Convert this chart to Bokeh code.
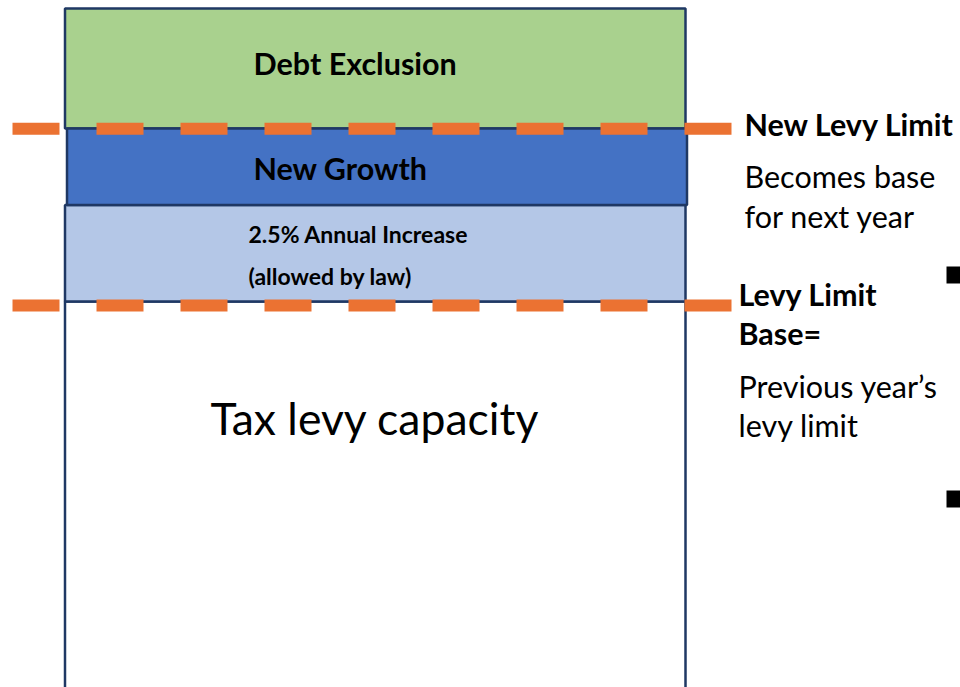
from bokeh.plotting import figure
from bokeh.models import Range1d
from bokeh.core.properties import value
from bokeh.embed import file_html
from bokeh.resources import INLINE

# ---- data (levels in levy units, measured upward from the page bottom) ----
segment_names = ["Tax levy capacity", "2.5% Annual Increase", "New Growth", "Debt Exclusion"]
segment_bottoms = [-20, 386, 482.5, 559]
segment_tops = [386, 482.5, 559, 679]
segment_colors = ["#FFFFFF", "#B4C7E7", "#4472C4", "#A9D18E"]

limit_names = ["New Levy Limit", "Levy Limit Base="]
limit_levels = [558.7, 382]

inside_labels = ["Debt Exclusion", "New Growth", "2.5% Annual Increase", "(allowed by law)", "Tax levy capacity"]
right_labels_bold = ["New Levy Limit", "Levy Limit", "Base="]
right_labels_plain = ["Becomes base", "for next year", "Previous year\u2019s", "levy limit"]

# ---- layout / styling ----
W, H = 960, 687
FONT = value("Lato")
NAVY = "#1F3864"
ORANGE = "#EB7232"

p = figure(width=W, height=H, output_backend="svg", toolbar_location=None,
           x_range=Range1d(0, W), y_range=Range1d(0, H),
           x_axis_location=None, y_axis_location=None, min_border=0)
p.grid.visible = False
p.outline_line_color = None
p.background_fill_color = "white"
p.border_fill_color = "white"

# stacked boxes (capacity, increase, debt exclusion, then new growth slightly offset on top)
box_left, box_right = 64.5, 685
for i in [0, 1, 3]:
    p.quad(left=[box_left], right=[box_right], bottom=[segment_bottoms[i]], top=[segment_tops[i]],
           fill_color=segment_colors[i], line_color=NAVY, line_width=2.5)
p.quad(left=[box_left + 2], right=[box_right + 1.5], bottom=[segment_bottoms[2]], top=[segment_tops[2]],
       fill_color=segment_colors[2], line_color=NAVY, line_width=2.5)

# dashed limit lines
p.segment(x0=[12] * len(limit_levels), x1=[731] * len(limit_levels),
          y0=limit_levels, y1=limit_levels, line_color=ORANGE, line_width=12,
          line_dash="47 37", line_cap="butt")

def sy(screen_y, size):
    # baseline position (screen px from top) -> data y, compensating renderer baseline offset
    return H - screen_y + 0.4 * size

# labels inside the box
p.text(x=[253, 253], y=[sy(75, 30.5), sy(180, 31)], text=inside_labels[0:2], text_font=FONT,
       text_font_style="bold", text_font_size="30.5px", text_baseline="alphabetic", text_color="black")
p.text(x=[248, 248], y=[sy(243, 23), sy(285, 23)], text=inside_labels[2:4], text_font=FONT,
       text_font_style="bold", text_font_size="23px", text_baseline="alphabetic", text_color="black")
p.text(x=[210], y=[sy(435, 44.5)], text=inside_labels[4:5], text_font=FONT,
       text_font_size="44.5px", text_baseline="alphabetic", text_color="black")

# right-hand annotations
p.text(x=[744, 738, 738], y=[sy(136, 30.5), sy(306, 30.5), sy(345, 30.5)], text=right_labels_bold,
       text_font=FONT, text_font_style="bold", text_font_size="30.5px", text_baseline="alphabetic",
       text_color="black")
p.text(x=[744, 744, 738, 738], y=[sy(188, 30.5), sy(228, 30.5), sy(398, 30.5), sy(437, 30.5)],
       text=right_labels_plain, text_font=FONT, text_font_size="30.5px", text_baseline="alphabetic",
       text_color="black")

# bullet squares at the right edge
p.quad(left=[946, 946], right=[962, 962], bottom=[H - 283, H - 507], top=[H - 266, H - 490],
       fill_color="black", line_color=None)

open("out.html", "w").write(file_html(p, INLINE))
